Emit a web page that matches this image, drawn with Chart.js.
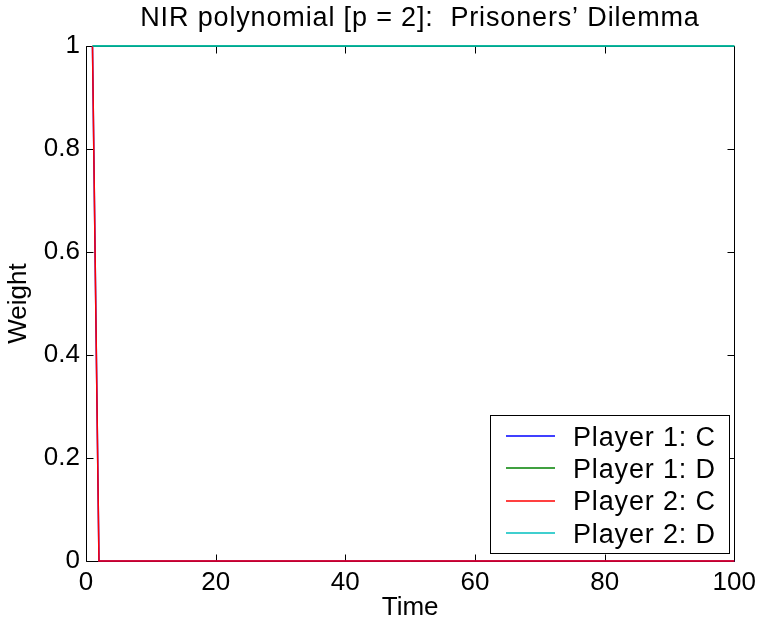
<!DOCTYPE html>
<html>
<head>
<meta charset="utf-8">
<script src="https://cdn.jsdelivr.net/npm/chart.js@4.4.1/dist/chart.umd.min.js"></script>
<style>
  html, body { margin: 0; padding: 0; background: #fff; }
  #wrap { width: 762px; height: 629px; }
</style>
</head>
<body>
<div id="wrap"><canvas id="weights" width="762" height="629"></canvas></div>
<script>
// values
const chartTitle = 'NIR polynomial [p = 2]:  Prisoners\u2019 Dilemma';
const timeSteps = [1, 2, 100];
const player1C = [1, 0, 0];
const player1D = [1, 1, 1];
const player2C = [1, 0, 0];
const player2D = [1, 1, 1];
const seriesLabels = ['Player 1: C', 'Player 1: D', 'Player 2: C', 'Player 2: D'];
const seriesColors = ['#0000ff', '#008000', '#ff0000', '#00bfbf'];
const xTicks = [0, 20, 40, 60, 80, 100];
const yTicks = [0, 0.2, 0.4, 0.6, 0.8, 1];

const FONT = '"Liberation Sans", Arial, Helvetica, sans-serif';

function toPoints(values) {
  return values.map((v, i) => ({ x: timeSteps[i], y: v }));
}

// matlab style box with inward ticks on all four sides
const frameBox = {
  id: 'frameBox',
  beforeDatasetsDraw(chart) {
    const { ctx, chartArea: a, scales } = chart;
    const L = Math.round(a.left) + 0.5, R = Math.round(a.right) + 0.5;
    const T = Math.round(a.top) + 0.5, B = Math.round(a.bottom) + 0.5;
    const len = 7;
    ctx.save();
    ctx.strokeStyle = '#000';
    ctx.lineWidth = 1;
    ctx.beginPath();
    ctx.rect(L, T, R - L, B - T);
    scales.x.ticks.forEach(t => {
      const px = Math.round(scales.x.getPixelForValue(t.value)) + 0.5;
      ctx.moveTo(px, B); ctx.lineTo(px, B - len);
      ctx.moveTo(px, T); ctx.lineTo(px, T + len);
    });
    scales.y.ticks.forEach(t => {
      const py = Math.round(scales.y.getPixelForValue(t.value)) + 0.5;
      ctx.moveTo(L, py); ctx.lineTo(L + len, py);
      ctx.moveTo(R, py); ctx.lineTo(R - len, py);
    });
    ctx.stroke();
    ctx.restore();
  },
  afterDraw(chart) {
    const { ctx } = chart;
    ctx.save();
    ctx.fillStyle = '#000';
    ctx.font = '27px ' + FONT;
    ctx.letterSpacing = '0.85px';
    ctx.textAlign = 'center';
    ctx.textBaseline = 'alphabetic';
    ctx.fillText(chartTitle, 420, 26);

    // legend box, lower right
    const bx = 490.5, by = 415.5, bw = 239, bh = 138;
    ctx.fillStyle = '#fff';
    ctx.fillRect(bx, by, bw, bh);
    ctx.strokeStyle = '#000';
    ctx.lineWidth = 1;
    ctx.strokeRect(bx, by, bw, bh);
    ctx.textAlign = 'left';
    chart.data.datasets.forEach((ds, i) => {
      const ry = 436 + i * 32.4;
      ctx.strokeStyle = ds.borderColor;
      ctx.lineWidth = 1.5;
      ctx.beginPath();
      ctx.moveTo(506, Math.round(ry));
      ctx.lineTo(555, Math.round(ry));
      ctx.stroke();
      ctx.fillStyle = '#000';
      ctx.fillText(ds.label, 573, ry + 9.5);
    });
    ctx.restore();
  }
};

// later series drawn on top, as in the original plot
const datasets = [player1C, player1D, player2C, player2D].map((vals, i, all) => ({
  label: seriesLabels[i],
  data: toPoints(vals),
  borderColor: seriesColors[i],
  backgroundColor: seriesColors[i],
  borderWidth: 1.5,
  pointRadius: 0,
  tension: 0,
  clip: false,
  order: all.length - i
}));

new Chart(document.getElementById('weights'), {
  type: 'line',
  data: { datasets: datasets },
  options: {
    responsive: false,
    animation: false,
    layout: { padding: { top: 46, right: 26, bottom: 0, left: 0 } },
    plugins: {
      legend: { display: false },
      title: { display: false },
      tooltip: { enabled: false }
    },
    scales: {
      x: {
        type: 'linear',
        min: 0,
        max: 100,
        afterBuildTicks: s => { s.ticks = xTicks.map(v => ({ value: v })); },
        afterFit: s => { s.height = 68; },
        grid: { display: false, drawTicks: false },
        border: { display: false },
        ticks: { color: '#000', padding: 6, maxRotation: 0, callback: v => String(v), font: { family: FONT, size: 26 } },
        title: { display: true, text: 'Time', color: '#000', padding: { top: 0, bottom: 6 }, font: { family: FONT, size: 26 } }
      },
      y: {
        type: 'linear',
        min: 0,
        max: 1,
        afterBuildTicks: s => { s.ticks = yTicks.map(v => ({ value: v })); },
        afterFit: s => { s.width = 86; },
        grid: { display: false, drawTicks: false },
        border: { display: false },
        ticks: { color: '#000', padding: 6, callback: v => String(v), font: { family: FONT, size: 26 } },
        title: { display: true, text: 'Weight', color: '#000', padding: { top: 3, bottom: 0 }, font: { family: FONT, size: 26 } }
      }
    }
  },
  plugins: [frameBox]
});
</script>
</body>
</html>
